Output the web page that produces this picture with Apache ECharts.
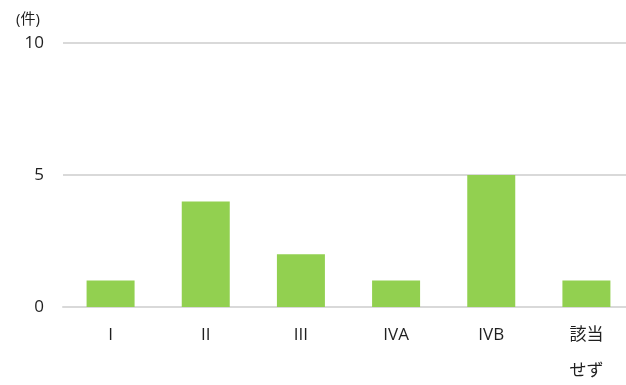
<!DOCTYPE html>
<html>
<head>
<meta charset="utf-8">
<script src="https://cdn.jsdelivr.net/npm/echarts@6/dist/echarts.min.js"></script>
<style>
  html, body { margin: 0; padding: 0; background: #fff; }
  #chart { width: 626px; height: 385px; }
</style>
</head>
<body>
<div id="chart"></div>
<script>
// Stage categories and case counts
const categories = ['I', 'II', 'III', 'IVA', 'IVB', '該当\nせず'];
const counts = [1, 4, 2, 1, 5, 1];
const yTicks = { min: 0, max: 10, interval: 5 };
const unitLabel = '(件)';

const font = '"Open Sans", "Noto Sans CJK JP", sans-serif';
const textColor = '#1f1f1f';
const chart = echarts.init(document.getElementById('chart'), null, { renderer: 'canvas' });

chart.setOption({
  animation: false,
  textStyle: { fontFamily: font },
  graphic: [{
    type: 'text',
    left: 16,
    top: 12,
    style: { text: unitLabel, fontSize: 15, fill: textColor, fontFamily: font }
  }],
  grid: {
    left: 63, top: 43, width: 571, height: 264,
    containLabel: false,
    outerBoundsMode: 'none'
  },
  xAxis: {
    type: 'category',
    data: categories,
    axisLine: { show: true, lineStyle: { color: '#d9d9d9', width: 2 } },
    axisTick: { show: false },
    axisLabel: {
      color: textColor,
      fontSize: 17,
      lineHeight: 36,
      margin: 10,
      fontFamily: font,
      interval: 0
    }
  },
  yAxis: {
    type: 'value',
    min: yTicks.min,
    max: yTicks.max,
    interval: yTicks.interval,
    axisLine: { show: false },
    axisTick: { show: false },
    splitLine: { lineStyle: { color: '#d9d9d9', width: 2 } },
    axisLabel: { color: textColor, fontSize: 17, margin: 19, fontFamily: font }
  },
  series: [{
    type: 'bar',
    data: counts,
    barWidth: 48,
    itemStyle: { color: '#92D050' }
  }]
});
</script>
</body>
</html>
